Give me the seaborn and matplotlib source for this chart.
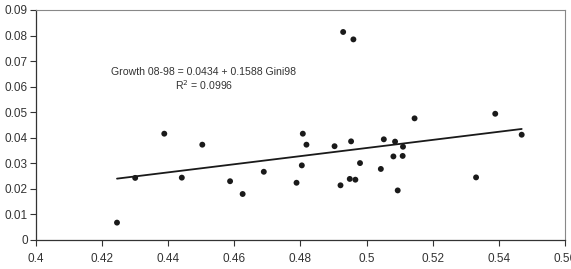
import pandas as pd
import seaborn as sns
import matplotlib.pyplot as plt

gini98 = [0.4245, 0.4300, 0.4388, 0.4441, 0.4503, 0.4587, 0.4625, 0.4689,
          0.4788, 0.4804, 0.4807, 0.4818, 0.4903, 0.4921, 0.4929, 0.4949,
          0.4953, 0.4960, 0.4966, 0.4980, 0.5043, 0.5052, 0.5081, 0.5086,
          0.5094, 0.5109, 0.5110, 0.5145, 0.5331, 0.5389, 0.5469]
growth = [0.0068, 0.0243, 0.0416, 0.0244, 0.0373, 0.0230, 0.0180, 0.0267,
          0.0224, 0.0292, 0.0416, 0.0373, 0.0367, 0.0214, 0.0814, 0.0239,
          0.0386, 0.0785, 0.0236, 0.0301, 0.0278, 0.0394, 0.0327, 0.0385,
          0.0194, 0.0329, 0.0365, 0.0476, 0.0245, 0.0494, 0.0412]
intercept = -0.0434
slope = 0.1588
xticks = [0.4, 0.42, 0.44, 0.46, 0.48, 0.5, 0.52, 0.54, 0.56]
xticklabels = ['0.4', '0.42', '0.44', '0.46', '0.48', '0.5', '0.52', '0.54', '0.56']
yticks = [0, 0.01, 0.02, 0.03, 0.04, 0.05, 0.06, 0.07, 0.08, 0.09]
yticklabels = ['0', '0.01', '0.02', '0.03', '0.04', '0.05', '0.06', '0.07', '0.08', '0.09']

data = pd.DataFrame({'Gini98': gini98, 'Growth': growth})

sns.set_style('white')
plt.rcParams['font.family'] = ['Liberation Sans', 'DejaVu Sans']

fig = plt.figure(figsize=(5.71, 2.69), dpi=100)
ax = fig.add_axes([36 / 571, 1 - 240 / 269, 529 / 571, 230 / 269])

sns.scatterplot(x='Gini98', y='Growth', data=data, ax=ax, color='#1a1a1a',
                s=18, edgecolor='none', zorder=3)

# trend line from the fitted coefficients
xs = [min(gini98), max(gini98)]
ax.plot(xs, [intercept + slope * x for x in xs], color='#1a1a1a', lw=1.3)

ax.text(0.4508, 0.0657, 'Growth 08-98 = 0.0434 + 0.1588 Gini98',
        ha='center', va='center', fontsize=7.6, color='#333333')
ax.text(0.4508, 0.0605, 'R$^2$ = 0.0996',
        ha='center', va='center', fontsize=7.6, color='#333333')

ax.set_xlim(0.4, 0.56)
ax.set_ylim(0, 0.09)
ax.set_xticks(xticks)
ax.set_xticklabels(xticklabels)
ax.set_yticks(yticks)
ax.set_yticklabels(yticklabels)
ax.set_xlabel('')
ax.set_ylabel('')
ax.tick_params(axis='both', direction='out', length=4, width=0.8,
               labelsize=8.5, colors='#333333', left=True, bottom=True)
ax.tick_params(axis='x', pad=5)
ax.tick_params(axis='y', pad=2)
for side in ['left', 'bottom']:
    ax.spines[side].set_color('#333333')
    ax.spines[side].set_linewidth(0.9)
for side in ['top', 'right']:
    ax.spines[side].set_color('#888888')
    ax.spines[side].set_linewidth(0.8)

fig.savefig('out.png', dpi=100)
